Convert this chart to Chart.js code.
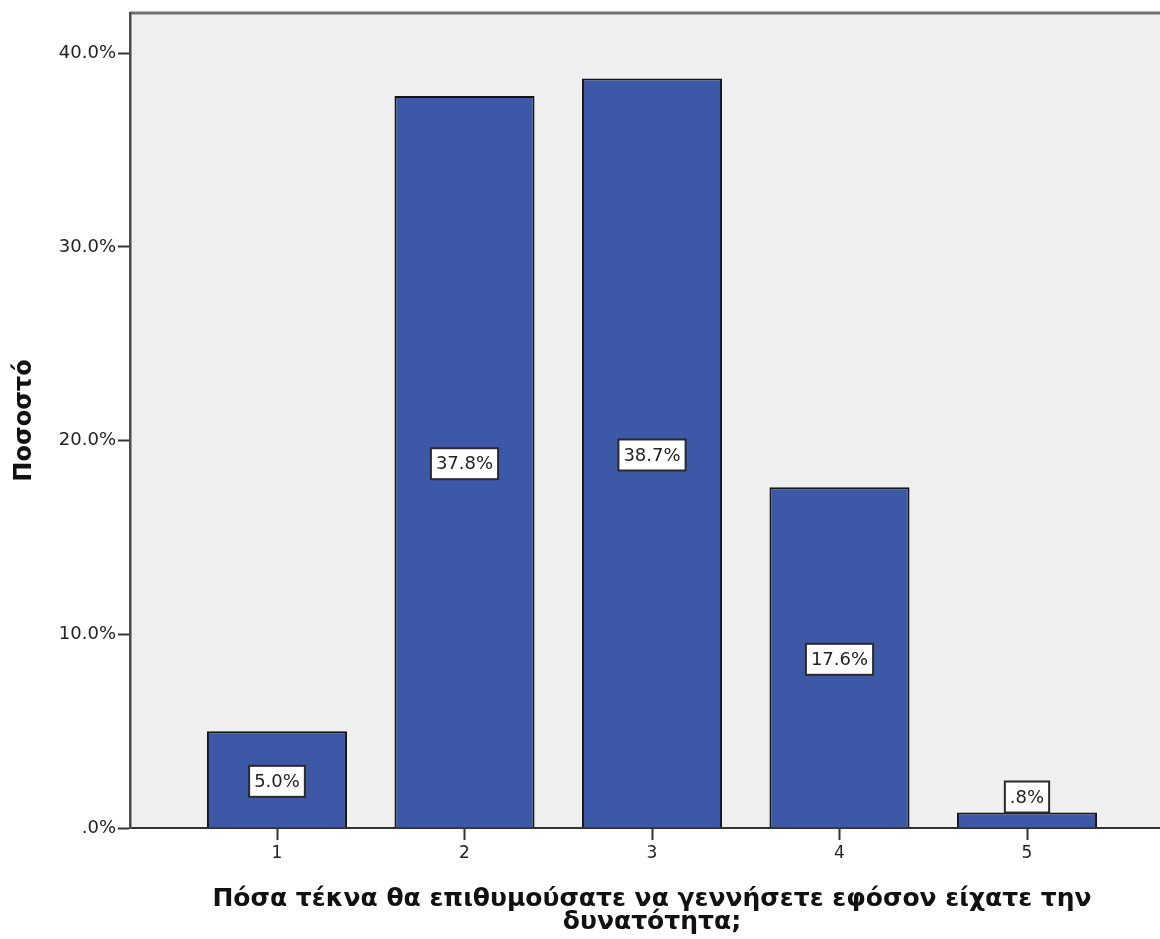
<!DOCTYPE html>
<html>
<head>
<meta charset="utf-8">
<script src="https://cdn.jsdelivr.net/npm/chart.js@4.4.1/dist/chart.umd.min.js"></script>
<style>
  html, body { margin: 0; padding: 0; background: #fff; overflow: hidden; }
  #wrap { width: 1160px; height: 939px; overflow: hidden; }
</style>
</head>
<body>
<div id="wrap"><canvas id="barChart" width="1174" height="939"></canvas></div>
<script>
// number of children (categories) and percentage of answers
const categories = [1, 2, 3, 4, 5];
const percents = [5.0, 37.8, 38.7, 17.6, 0.8];
const yTicks = [0, 10, 20, 30, 40];

const xTitle = ["Πόσα τέκνα θα επιθυμούσατε να γεννήσετε εφόσον είχατε την", "δυνατότητα;"];
const yTitle = "Ποσοστό";

// SPSS style percent: no leading zero
function pct(v) {
  var s = v.toFixed(1);
  if (s.indexOf("0.") === 0) s = s.substring(1);
  return s + "%";
}

const plotBg = {
  id: 'plotBg',
  beforeDraw(chart) {
    const a = chart.chartArea, c = chart.ctx;
    c.save();
    c.fillStyle = '#efefef';
    c.fillRect(a.left, a.top, a.right - a.left, a.bottom - a.top);
    c.strokeStyle = '#707070';
    c.lineWidth = 3;
    c.beginPath();
    c.moveTo(a.left, a.top);
    c.lineTo(a.right, a.top);
    c.lineTo(a.right, a.bottom);
    c.stroke();
    c.restore();
  }
};

const boxLabels = {
  id: 'boxLabels',
  afterDatasetsDraw(chart) {
    const c = chart.ctx;
    const meta = chart.getDatasetMeta(0);
    c.save();
    c.font = '18px "DejaVu Sans"';
    c.textAlign = 'center';
    c.textBaseline = 'middle';
    meta.data.forEach(function (bar, i) {
      const txt = pct(percents[i]);
      const w = c.measureText(txt).width + 10;
      const h = 31;
      let cy = (bar.y + bar.base) / 2 + 2;
      if (bar.base - bar.y < h + 4) cy = bar.y - h / 2;
      c.fillStyle = '#ffffff';
      c.fillRect(bar.x - w / 2, cy - h / 2, w, h);
      c.strokeStyle = '#2a2a2a';
      c.lineWidth = 2;
      c.strokeRect(bar.x - w / 2, cy - h / 2, w, h);
      c.fillStyle = '#222';
      c.fillText(txt, bar.x, cy + 1);
    });
    c.restore();
  }
};

new Chart(document.getElementById('barChart'), {
  type: 'bar',
  data: {
    datasets: [{
      data: categories.map(function (c, i) { return { x: c, y: percents[i] }; }),
      backgroundColor: '#3e58a8',
      borderColor: '#151515',
      borderWidth: 2,
      categoryPercentage: 0.747,
      barPercentage: 1
    }]
  },
  options: {
    responsive: false,
    animation: false,
    layout: { padding: { top: 13, left: 0, right: 0, bottom: 0 } },
    plugins: {
      legend: { display: false },
      tooltip: { enabled: false }
    },
    scales: {
      x: {
        type: 'linear',
        offset: false,
        min: 0.216,
        max: 5.784,
        afterBuildTicks: function (s) { s.ticks = categories.map(function (v) { return { value: v }; }); },
        afterFit: function (s) { s.height = 111; },
        grid: { display: true, drawOnChartArea: false, offset: false, tickLength: 12, tickWidth: 2, color: '#333' },
        border: { display: true, color: '#333', width: 2 },
        ticks: {
          padding: 3,
          color: '#222',
          font: { family: 'DejaVu Sans', size: 17 },
          maxRotation: 0,
          callback: function (v) { return String(v); }
        },
        title: {
          display: true,
          text: xTitle,
          color: '#111',
          font: { family: 'DejaVu Sans', size: 25, weight: 'bold', lineHeight: '23px' },
          padding: { top: 0, bottom: 5 }
        }
      },
      y: {
        min: 0,
        max: 42.08,
        afterBuildTicks: function (s) { s.ticks = yTicks.map(function (v) { return { value: v }; }); },
        afterFit: function (s) { s.width = 130; },
        grid: { display: true, drawOnChartArea: false, tickLength: 12, tickWidth: 2, color: '#333' },
        border: { display: true, color: '#4a4a4a', width: 2.5 },
        ticks: {
          padding: 2,
          color: '#222',
          font: { family: 'DejaVu Sans', size: 18 },
          callback: function (v) { return pct(v); }
        },
        title: {
          display: true,
          text: yTitle,
          color: '#111',
          font: { family: 'DejaVu Sans', size: 24, weight: 'bold' },
          padding: { top: 10, bottom: 0 }
        }
      }
    }
  },
  plugins: [plotBg, boxLabels]
});
</script>
</body>
</html>
